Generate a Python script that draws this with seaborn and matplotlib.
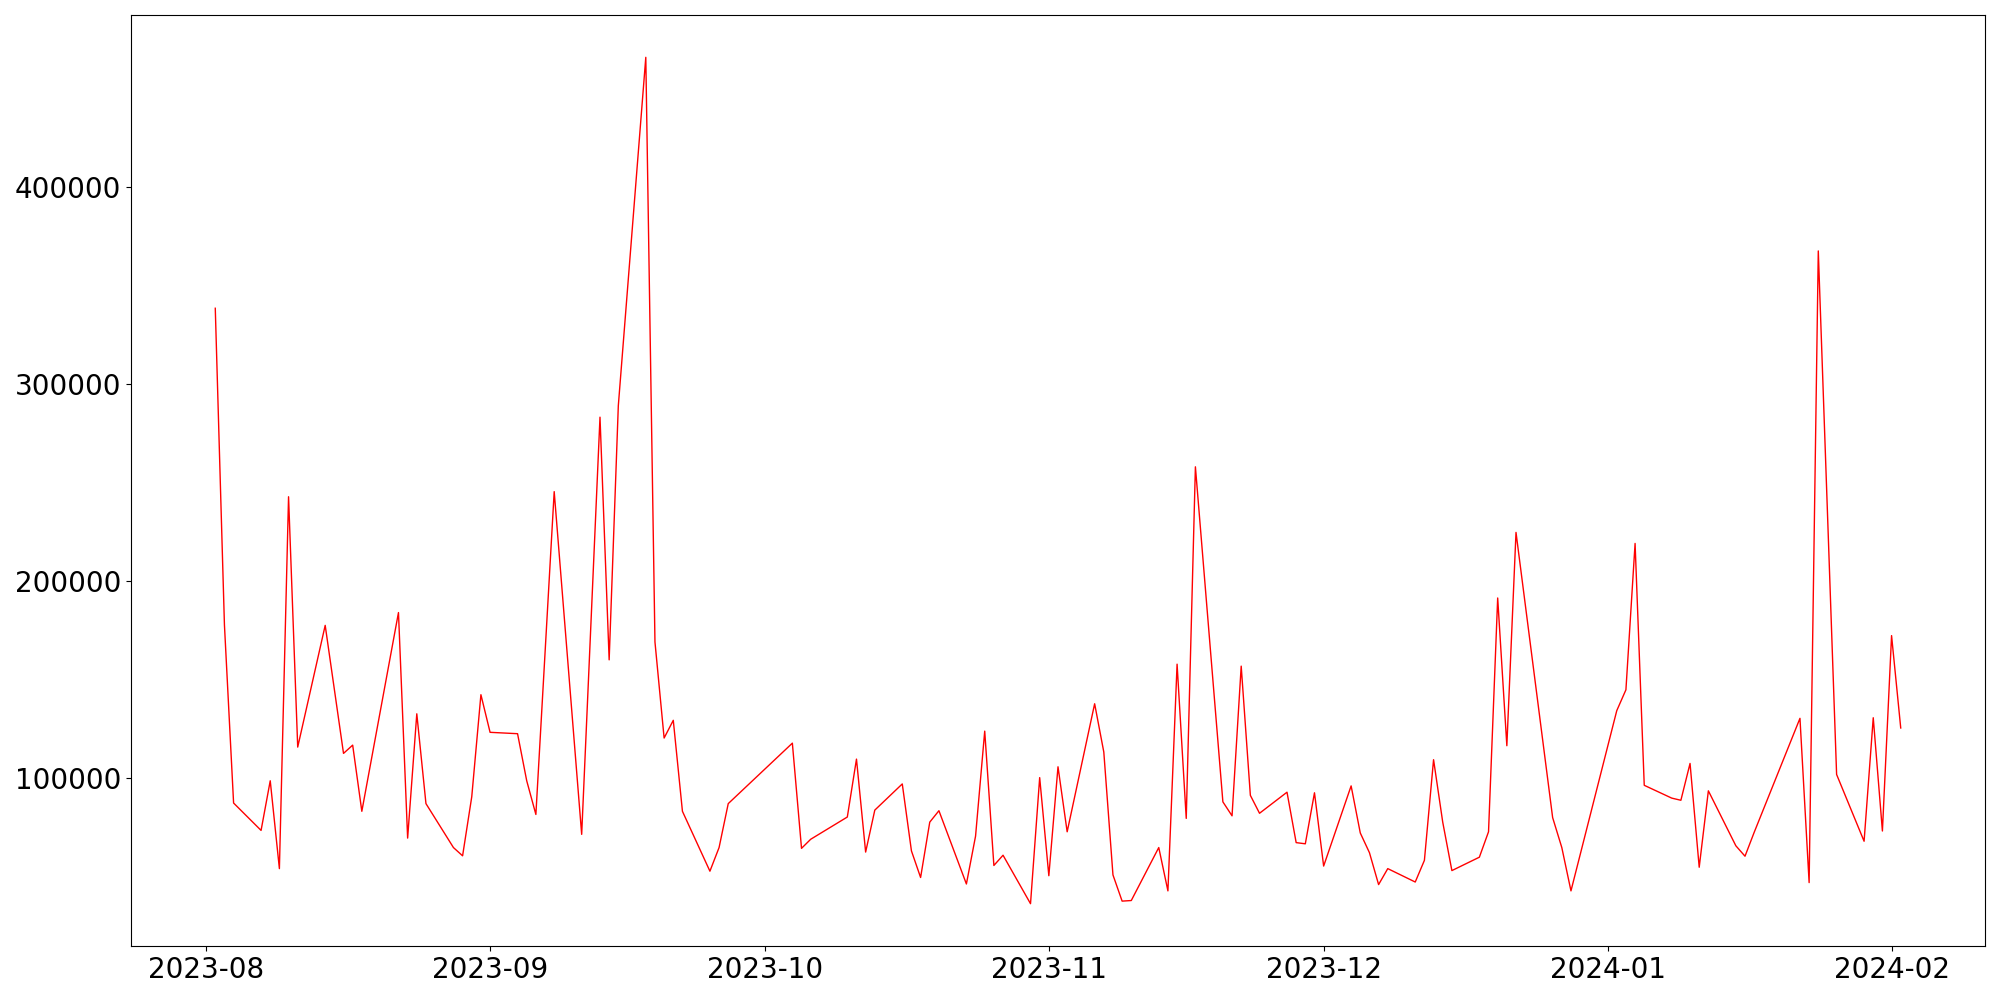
"""
Daily series plotted as a single red line (Aug 2023 - Feb 2024).
"""

import pandas as pd
import matplotlib
matplotlib.use("Agg")
import matplotlib.pyplot as plt
import seaborn as sns

# Dates of each observation (gaps are missing days in the source)
dates = [
    '2023-08-02', '2023-08-03', '2023-08-04', '2023-08-07', '2023-08-08',
    '2023-08-09', '2023-08-10', '2023-08-11', '2023-08-14', '2023-08-16',
    '2023-08-17', '2023-08-18', '2023-08-22', '2023-08-23', '2023-08-24',
    '2023-08-25', '2023-08-28', '2023-08-29', '2023-08-30', '2023-08-31',
    '2023-09-01', '2023-09-04', '2023-09-05', '2023-09-06', '2023-09-08',
    '2023-09-11', '2023-09-13', '2023-09-14', '2023-09-15', '2023-09-18',
    '2023-09-19', '2023-09-20', '2023-09-21', '2023-09-22', '2023-09-25',
    '2023-09-26', '2023-09-27', '2023-10-04', '2023-10-05', '2023-10-06',
    '2023-10-10', '2023-10-11', '2023-10-12', '2023-10-13', '2023-10-16',
    '2023-10-17', '2023-10-18', '2023-10-19', '2023-10-20', '2023-10-23',
    '2023-10-24', '2023-10-25', '2023-10-26', '2023-10-27', '2023-10-30',
    '2023-10-31', '2023-11-01', '2023-11-02', '2023-11-03', '2023-11-06',
    '2023-11-07', '2023-11-08', '2023-11-09', '2023-11-10', '2023-11-13',
    '2023-11-14', '2023-11-15', '2023-11-16', '2023-11-17', '2023-11-20',
    '2023-11-21', '2023-11-22', '2023-11-23', '2023-11-24', '2023-11-27',
    '2023-11-28', '2023-11-29', '2023-11-30', '2023-12-01', '2023-12-04',
    '2023-12-05', '2023-12-06', '2023-12-07', '2023-12-08', '2023-12-11',
    '2023-12-12', '2023-12-13', '2023-12-14', '2023-12-15', '2023-12-18',
    '2023-12-19', '2023-12-20', '2023-12-21', '2023-12-22', '2023-12-26',
    '2023-12-27', '2023-12-28', '2024-01-02', '2024-01-03', '2024-01-04',
    '2024-01-05', '2024-01-08', '2024-01-09', '2024-01-10', '2024-01-11',
    '2024-01-12', '2024-01-15', '2024-01-16', '2024-01-17', '2024-01-22',
    '2024-01-23', '2024-01-24', '2024-01-25', '2024-01-26', '2024-01-29',
    '2024-01-30', '2024-01-31', '2024-02-01', '2024-02-02',
]

values = [
    338600, 177900, 87400, 73500, 98700,
    54100, 242900, 115800, 177600, 112600,
    116800, 83200, 184100, 69600, 132700,
    87100, 64800, 60600, 90600, 142400,
    123300, 122600, 98700, 81600, 245500,
    71500, 283300, 160100, 289100, 466000,
    169200, 120400, 129400, 83200, 52800,
    64800, 87100, 117800, 64400, 69000,
    80300, 109700, 62500, 83800, 97100,
    63100, 49600, 77700, 83500, 46300,
    70600, 123900, 55700, 60900, 36300,
    100300, 50500, 105800, 72800, 137800,
    113300, 50900, 37600, 37900, 64800,
    42800, 157900, 79600, 258100, 88000,
    80900, 156900, 91300, 82200, 92900,
    67300, 66700, 92600, 55400, 96100,
    72200, 62200, 46000, 54100, 47300,
    58300, 109400, 77700, 53100, 59900,
    72800, 191500, 116500, 224800, 80000,
    64800, 42800, 134300, 144900, 219200,
    96400, 89900, 88800, 107500, 54800,
    93600, 65700, 60400, 72500, 130400,
    47000, 367700, 235000, 101900, 68000,
    130700, 73200, 172400, 125500,
]

df = pd.DataFrame({'date': pd.to_datetime(dates), 'value': values})

fig, ax = plt.subplots(figsize=(20, 10), dpi=100)
sns.lineplot(data=df, x='date', y='value', color='red', linewidth=1.0, ax=ax)

ax.set_xlabel('')
ax.set_ylabel('')
ax.tick_params(axis='both', labelsize=20)

plt.subplots_adjust(left=0.0655, right=0.9925, top=0.985, bottom=0.054)
plt.savefig('out.png', dpi=100)
plt.close()
